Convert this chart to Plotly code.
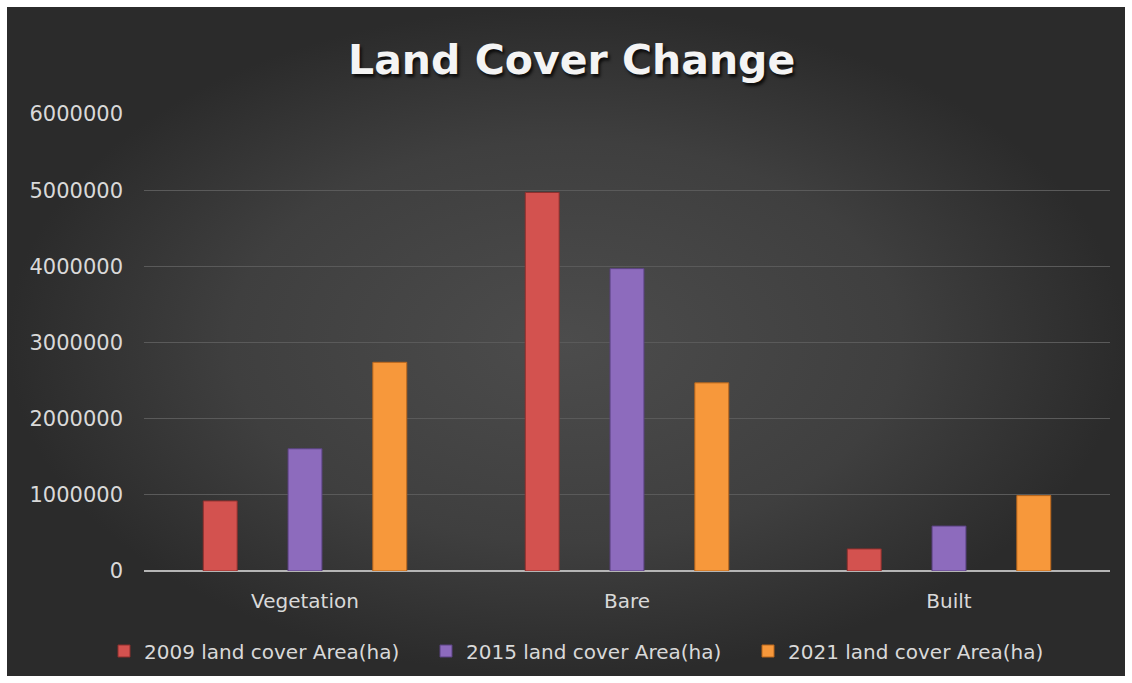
import plotly.graph_objects as go

# Land cover areas (ha) per class and survey year
categories = ["Vegetation", "Bare", "Built"]
area_2009 = [920000, 4970000, 290000]
area_2015 = [1605000, 3970000, 590000]
area_2021 = [2740000, 2470000, 990000]

series_names = [
    "2009 land cover Area(ha)",
    "2015 land cover Area(ha)",
    "2021 land cover Area(ha)",
]
y_ticks = [0, 1000000, 2000000, 3000000, 4000000, 5000000, 6000000]

fill_colors = ["#d3524f", "#8d6bbd", "#f7983b"]
edge_colors = ["#8e2f2d", "#5a4282", "#b8661c"]

W, H = 1132, 683
M = 7
TEXT = "#d9d9d9"
FONT = "'DejaVu Sans', sans-serif"

fig = go.Figure()

# Radial-shaded dark panel behind the chart
fig.add_trace(go.Scatter(
    x=[0, 1, 1, 0, 0], y=[0, 0, 1, 1, 0],
    mode="lines", line=dict(width=0),
    fill="toself",
    fillgradient=dict(type="radial",
                      colorscale=[[0, "#4c4c4c"], [0.6, "#3f3f3f"], [1, "#2b2b2b"]]),
    hoverinfo="skip", showlegend=False,
    xaxis="x", yaxis="y",
))

for name, vals, fc, ec in zip(series_names, [area_2009, area_2015, area_2021],
                              fill_colors, edge_colors):
    fig.add_trace(go.Bar(
        x=categories, y=vals, name=name,
        marker=dict(color=fc, line=dict(color=ec, width=1)),
        xaxis="x2", yaxis="y2",
    ))

pw, ph = W - 2 * M, H - 2 * M
x0, x1 = (144 - M) / pw, (1110 - M) / pw
y0, y1 = (H - M - 571) / ph, (H - M - 114) / ph

fig.update_layout(
    width=W, height=H,
    margin=dict(l=M, r=M, t=M, b=M, autoexpand=False),
    paper_bgcolor="white",
    plot_bgcolor="rgba(0,0,0,0)",
    barmode="group", bargap=0.21, bargroupgap=0.6,
    font=dict(family=FONT, color=TEXT, size=19),
    title=dict(
        text="Land Cover Change",
        x=0.505, xanchor="center", y=1 - 60 / H, yanchor="middle",
        font=dict(family="'DejaVu Sans', sans-serif", size=41, weight=900,
                  color="#f4f4f4", shadow="2px 3px 3px rgba(0,0,0,0.75)"),
    ),
    xaxis=dict(domain=[0, 1], range=[0, 1], visible=False, fixedrange=True),
    yaxis=dict(domain=[0, 1], range=[0, 1], visible=False, fixedrange=True),
    xaxis2=dict(
        domain=[x0, x1], anchor="y2",
        showgrid=False, showline=False, zeroline=False,
        tickfont=dict(size=20, color=TEXT), ticks="", ticklabelstandoff=16,
    ),
    yaxis2=dict(
        domain=[y0, y1], anchor="x2", range=[0, 6000000],
        tickvals=y_ticks, ticktext=[str(v) for v in y_ticks],
        showgrid=True, gridcolor="#5a5a5a", gridwidth=1,
        zeroline=True, zerolinecolor="#b5b5b5", zerolinewidth=2,
        showline=False, ticks="", ticklabelstandoff=20,
        tickfont=dict(size=21, color=TEXT),
    ),
    legend=dict(
        orientation="h", x=(104 - M) / pw, xanchor="left",
        y=(H - M - 651) / ph, yanchor="middle",
        font=dict(size=20, color=TEXT), bgcolor="rgba(0,0,0,0)",
        itemwidth=30, traceorder="normal",
        entrywidth=277, entrywidthmode="pixels",
    ),
    showlegend=True,
)

fig.write_html("out.html")
